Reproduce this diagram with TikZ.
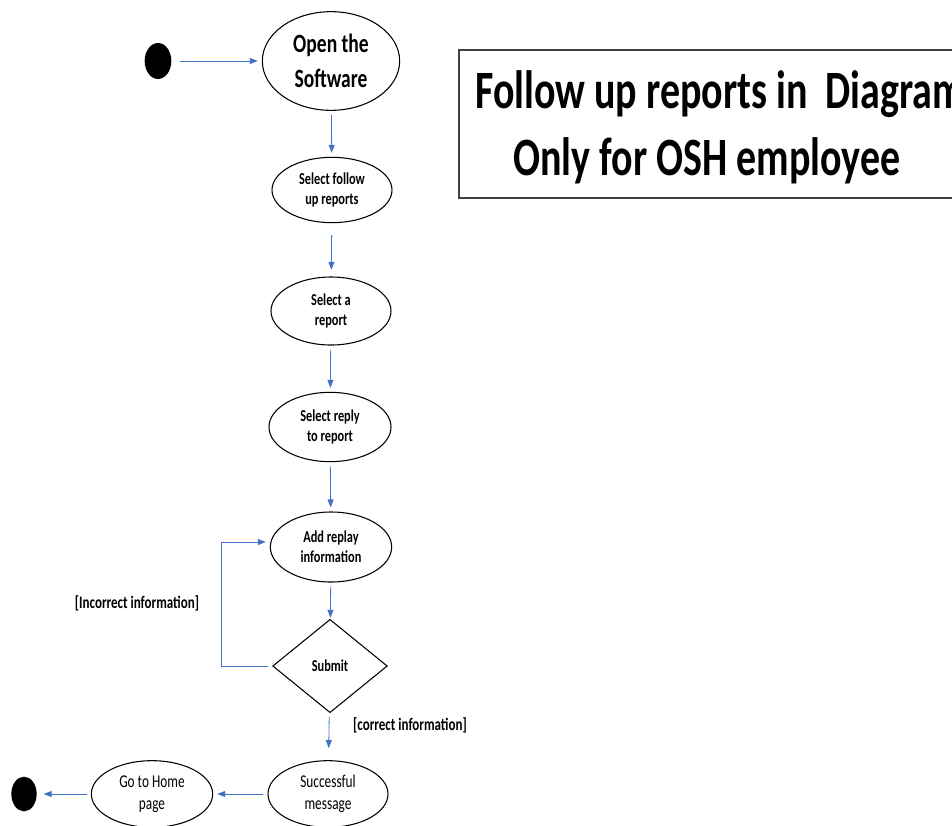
\documentclass[tikz,border=0pt]{standalone}
\usepackage{fontspec}
\setmainfont{Carlito}[FakeStretch=0.74]
\usetikzlibrary{arrows.meta,calc,positioning,shapes.geometric}
\definecolor{FlowClr}{RGB}{68,114,196}

\begin{document}
\begin{tikzpicture}[x=0.75pt,y=-0.75pt,
  act/.style={draw=black,line width=0.8pt,ellipse,inner sep=0pt,align=center,
    minimum width=90pt,minimum height=49pt,
    font=\bfseries\fontsize{12.5}{15}\selectfont},
  plainact/.style={act,font=\fontsize{13.5}{16.5}\selectfont},
  decide/.style={draw=black,line width=0.8pt,diamond,inner sep=0pt,
    minimum width=86pt,minimum height=70pt,
    font=\bfseries\fontsize{12.5}{15}\selectfont},
  dot/.style={fill=black,ellipse,inner sep=0pt,minimum width=20pt,minimum height=27pt},
  flow/.style={draw=FlowClr,line width=0.6pt,-{Triangle[length=6pt,width=4.5pt]},
    shorten <=3pt,shorten >=3pt},
  guard/.style={font=\bfseries\fontsize{13.2}{16}\selectfont},
  heading/.style={anchor=base west,inner sep=0pt,font=\bfseries\fontsize{40.5}{50}\selectfont}]
\clip (0,0) rectangle (952,825);

% title box
\draw[line width=0.8pt,color=black!75] (459,50) rectangle (1000,198);
\node[heading] (title1) at (475,108) {Follow up reports in \ Diagram};
\node[heading] (title2) at (513,175) {Only for OSH employee};

% nodes
\node[dot] (start) at (158,61) {};
\node[act,minimum width=103pt,minimum height=74pt,
  font=\bfseries\fontsize{19.8}{26}\selectfont] (open) at (331,61) {Open the\\Software};
\node[act] (follow) at (332,190) {Select follow\\up reports};
\node[act,minimum height=51pt] (report) at (331,311) {Select a\\report};
\node[act,minimum width=91.5pt,minimum height=52pt] (reply) at (330,427) {Select reply\\to report};
\node[act,minimum width=91pt,minimum height=52.5pt] (addinfo) at (331,547) {Add replay\\information};
\node[decide] (submit) at (330,666) {Submit};
\node[plainact,minimum height=50pt] (success) at (328,794) {Successful\\message};
\node[plainact,minimum width=91pt,minimum height=50pt] (home) at (152,794) {Go to Home\\page};
\node[dot,minimum width=19pt,minimum height=26pt] (stop) at (24,794) {};

% connectors
\draw[flow,shorten <=6pt] (start) -- (open);
\draw[flow] (open) -- (follow);
\draw[flow,shorten <=9pt,shorten >=5pt] (follow) -- (report);
\draw[flow] (report) -- (reply);
\draw[flow] (reply) -- (addinfo);
\draw[flow,shorten >=1pt] (addinfo) -- (submit);
\draw[flow] (submit.west) -- ++(-51,0) |- ($(addinfo.west)+(0,-5)$);
\draw[flow,shorten >=9pt] (submit) -- (success);
\draw[flow] (success) -- (home);
\draw[flow,shorten >=5pt] (home) -- (stop);

% guards
\node[guard] (wrong) at (137,603) {[Incorrect information]};
\node[guard] (right) at (410,725) {[correct information]};
\end{tikzpicture}
\end{document}
